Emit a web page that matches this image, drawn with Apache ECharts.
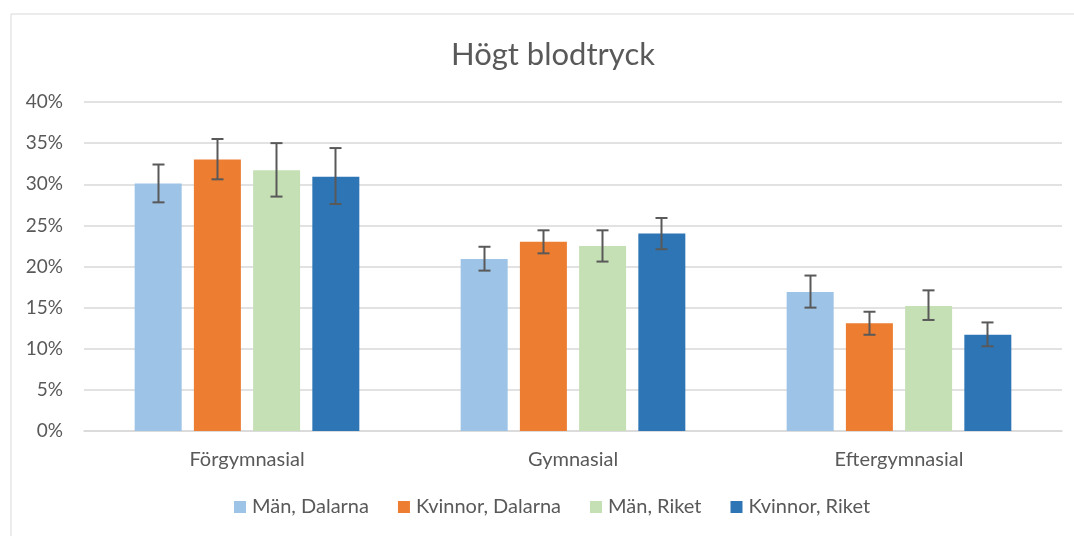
<!DOCTYPE html>
<html>
<head>
<meta charset="utf-8">
<script src="https://cdn.jsdelivr.net/npm/echarts@6/dist/echarts.min.js"></script>
<style>
  html, body { margin: 0; padding: 0; background: #fff; }
  #main { width: 1074px; height: 536px; }
</style>
</head>
<body>
<div id="main"></div>
<script>
    var categories = ['Förgymnasial', 'Gymnasial', 'Eftergymnasial'];
    var seriesNames = ['Män, Dalarna', 'Kvinnor, Dalarna', 'Män, Riket', 'Kvinnor, Riket'];
    var seriesColors = ['#9dc3e6', '#ed7d31', '#c5e0b4', '#2e75b6'];
    // andel i procent
    var manDalarna = [30.1, 20.9, 16.9];
    var kvinnorDalarna = [33.0, 23.0, 13.1];
    var manRiket = [31.7, 22.5, 15.2];
    var kvinnorRiket = [30.9, 24.0, 11.7];
    // konfidensintervall [låg, hög]
    var errManDalarna = [[27.8, 32.4], [19.5, 22.4], [15.0, 18.9]];
    var errKvinnorDalarna = [[30.6, 35.5], [21.6, 24.4], [11.7, 14.5]];
    var errManRiket = [[28.5, 35.0], [20.6, 24.4], [13.5, 17.1]];
    var errKvinnorRiket = [[27.6, 34.4], [22.1, 25.9], [10.3, 13.2]];
    var yTicks = [0, 5, 10, 15, 20, 25, 30, 35, 40];

    var values = [manDalarna, kvinnorDalarna, manRiket, kvinnorRiket];
    var errors = [errManDalarna, errKvinnorDalarna, errManRiket, errKvinnorRiket];

    var barWidth = 47,
        barStep = 59,
        textColor = '#595959',
        font = 'Lato';

    var makeErrorSeries = function(idx) {
        var data = [];
        for (var i = 0; i < categories.length; i++) {
            data.push([i, errors[idx][i][0], errors[idx][i][1]]);
        }
        return {
            type: 'custom',
            name: seriesNames[idx] + ' fel',
            silent: true,
            z: 10,
            data: data,
            renderItem: function(params, api) {
                var lo = api.coord([api.value(0), api.value(1)]),
                    hi = api.coord([api.value(0), api.value(2)]),
                    x = lo[0] + (idx - 1.5) * barStep,
                    cap = 6,
                    style = { stroke: '#595959', lineWidth: 2 };
                return {
                    type: 'group',
                    children: [
                        { type: 'line', shape: { x1: x, y1: hi[1], x2: x, y2: lo[1] }, style: style },
                        { type: 'line', shape: { x1: x - cap, y1: hi[1], x2: x + cap, y2: hi[1] }, style: style },
                        { type: 'line', shape: { x1: x - cap, y1: lo[1], x2: x + cap, y2: lo[1] }, style: style }
                    ]
                };
            }
        };
    };

    var series = [];
    for (var s = 0; s < values.length; s++) {
        series.push({
            type: 'bar',
            name: seriesNames[s],
            data: values[s],
            barWidth: barWidth,
            barGap: '26%',
            itemStyle: { color: seriesColors[s] }
        });
    }
    for (var e = 0; e < errors.length; e++) {
        series.push(makeErrorSeries(e));
    }

    var option = {
        animation: false,
        backgroundColor: '#fff',
        graphic: [{
            type: 'rect',
            shape: { x: 11, y: 14, width: 1080, height: 540 },
            style: { fill: 'none', stroke: '#d9d9d9', lineWidth: 1 },
            silent: true
        }],
        title: {
            text: 'Högt blodtryck',
            left: 446,
            top: 34,
            textStyle: { fontFamily: font, fontSize: 31, fontWeight: 'normal', color: textColor }
        },
        legend: {
            data: seriesNames,
            bottom: 14,
            left: 229,
            icon: 'rect',
            itemWidth: 12,
            itemHeight: 12,
            itemGap: 29,
            textStyle: { fontFamily: font, fontSize: 20, color: textColor, padding: [0, 0, 0, 1] }
        },
        grid: { left: 84, right: 12, top: 102, bottom: 105 },
        xAxis: {
            type: 'category',
            data: categories,
            axisTick: { show: false },
            axisLine: { lineStyle: { color: '#d9d9d9', width: 1.5 } },
            axisLabel: { fontFamily: font, fontSize: 20, color: textColor, margin: 19 }
        },
        yAxis: {
            type: 'value',
            min: yTicks[0],
            max: yTicks[yTicks.length - 1],
            interval: 5,
            axisLine: { show: false },
            axisTick: { show: false },
            splitLine: { lineStyle: { color: '#d9d9d9', width: 1.5 } },
            axisLabel: {
                fontFamily: font, fontSize: 19, color: textColor, margin: 21,
                formatter: function(v) { return v + '%'; }
            }
        },
        series: series
    };

    var myChart = echarts.init(document.getElementById('main'));
    myChart.setOption(option);
</script>
</body>
</html>
